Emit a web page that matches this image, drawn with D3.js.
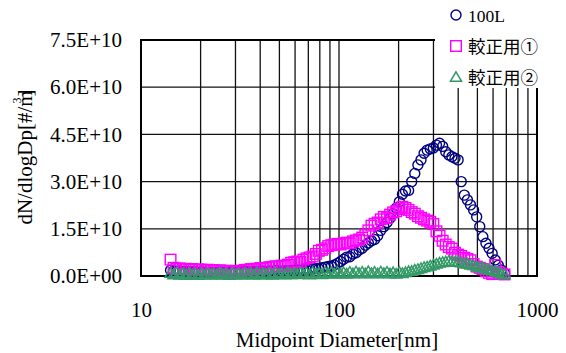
<!DOCTYPE html>
<html>
<head>
<meta charset="utf-8">
<script src="https://cdn.jsdelivr.net/npm/d3@7"></script>
<style>
  html, body { margin: 0; padding: 0; background: #fff; }
  svg { display: block; }
  text { font-family: "Liberation Serif", "Times New Roman", "Noto Sans CJK JP", serif; fill: #000; }
</style>
</head>
<body>
<script>
// Channel midpoint diameters [nm]
const diameters = [
  14.1, 14.6, 15.1, 15.7, 16.3, 16.8, 17.5, 18.1, 18.8, 19.5,
  20.2, 20.9, 21.7, 22.5, 23.3, 24.1, 25.0, 25.9, 26.9, 27.9,
  28.9, 30.0, 31.1, 32.2, 33.4, 34.6, 35.9, 37.2, 38.5, 40.0,
  41.4, 42.9, 44.5, 46.1, 47.8, 49.6, 51.4, 53.3, 55.2, 57.3,
  59.4, 61.5, 63.8, 66.1, 68.5, 71.0, 73.7, 76.4, 79.1, 82.0,
  85.1, 88.2, 91.4, 94.7, 98.2, 101.8, 105.5, 109.4, 113.4, 117.6,
  121.9, 126.3, 131.0, 135.8, 140.7, 145.9, 151.2, 156.8, 162.5, 168.5,
  174.7, 181.1, 187.7, 194.6, 201.7, 209.1, 216.7, 224.7, 232.9, 241.4,
  250.3, 259.5, 269.0, 278.8, 289.0, 299.6, 310.6, 322.0, 333.8, 346.0,
  358.7, 371.8, 385.4, 399.5, 414.2, 429.4, 445.1, 461.4, 478.3, 495.8,
  514.0, 532.8, 552.3, 572.5, 593.5, 615.3, 637.8, 661.2, 685.4
];

// dN/dlogDp values, in units of 1e9 #/m3
const VALUE_UNIT = 1e9;

const values100L = [
  1.8, 1.6, 1.5, 1.6, 1.4, 1.5, 1.3, 1.4, 1.3, 1.2,
  1.3, 1.2, 1.1, 1.2, 1.1, 1.2, 1.3, 1.2, 1.1, 1.2,
  1.3, 1.2, 1.4, 1.3, 1.5, 1.4, 1.3, 1.5, 1.4, 1.6,
  1.5, 1.4, 1.6, 1.5, 1.7, 1.6, 1.5, 1.7, 1.6, 1.8,
  1.7, 1.9, 1.8, 2.0, 1.9, 2.1, 2.2, 2.4, 2.3, 2.6,
  2.8, 3.0, 3.1, 3.5, 4.0, 4.6, 5.3, 6.0, 6.1, 7.0,
  7.4, 8.3, 8.8, 9.8, 10.5, 11.2, 11.6, 12.8, 14.5, 15.7,
  17.0, 18.4, 19.8, 21.6, 23.6, 26.0, 27.0, 27.2, 30.0, 32.6,
  35.3, 36.9, 39.0, 40.0, 40.4, 40.7, 41.6, 42.2, 41.2, 39.5,
  38.5, 37.9, 37.4, 36.9, 30.0, 25.7, 24.2, 22.6, 21.0, 18.8,
  15.7, 12.5, 10.4, 8.8, 7.2, 5.1, 3.4, 1.9, 0.9
];

const valuesCal1 = [
  5.2, 2.6, 2.3, 2.4, 2.2, 2.3, 2.1, 2.2, 2.0, 2.1,
  2.0, 1.9, 2.0, 1.8, 1.9, 1.7, 1.8, 1.6, 1.7, 1.5,
  1.6, 1.5, 1.6, 1.7, 1.9, 2.0, 2.2, 2.1, 2.3, 2.5,
  2.4, 2.6, 2.8, 2.9, 3.1, 3.0, 3.3, 3.2, 3.6, 4.2,
  4.4, 4.6, 4.5, 5.2, 5.6, 5.9, 6.2, 7.0, 8.0, 8.3,
  8.8, 9.5, 9.8, 10.0, 10.2, 10.0, 10.4, 10.6, 10.4, 11.0,
  11.3, 11.6, 12.2, 13.0, 14.5, 16.0, 16.6, 17.0, 18.0, 18.8,
  18.4, 19.5, 20.2, 20.6, 21.3, 22.0, 21.6, 21.0, 20.3, 19.8,
  19.0, 18.5, 18.0, 17.6, 17.2, 16.5, 14.2, 12.8, 11.2, 10.0,
  9.2, 8.7, 7.4, 6.8, 6.4, 5.8, 5.4, 5.0, 3.8, 3.0,
  2.6, 2.2, 1.5, 1.0, 0.6, 3.5, 1.2, 0.8, 0.5
];

const valuesCal2 = [
  1.0, 0.5, 1.1, 0.4, 0.9, 0.3, 1.0, 0.5, 0.8, 0.3,
  0.9, 0.4, 1.0, 0.5, 0.8, 0.4, 1.1, 0.5, 0.9, 0.3,
  1.0, 0.5, 0.8, 0.4, 1.0, 0.6, 0.9, 0.4, 1.1, 0.5,
  0.9, 0.5, 1.0, 0.4, 1.1, 0.6, 0.9, 0.5, 1.2, 0.6,
  1.0, 0.6, 1.2, 0.7, 1.1, 0.5, 1.3, 0.7, 1.1, 0.6,
  1.3, 0.8, 1.2, 0.7, 1.4, 0.8, 1.2, 0.7, 1.3, 0.8,
  1.4, 0.9, 1.3, 0.8, 1.5, 0.9, 1.3, 0.8, 1.4, 0.9,
  1.3, 0.8, 1.2, 0.7, 1.3, 0.9, 1.2, 1.5, 1.6, 2.0,
  2.2, 2.5, 2.8, 3.0, 3.3, 3.6, 3.9, 4.2, 4.4, 4.6,
  4.8, 4.7, 4.5, 4.6, 4.3, 4.0, 3.9, 3.6, 3.4, 3.0,
  2.8, 2.6, 2.3, 2.0, 1.8, 1.5, 1.2, 0.8, 0.5
];

const seriesNames = ["100L", "較正用①", "較正用②"];
const seriesColors = ["#000080", "#ff00ff", "#339966"];
const seriesShapes = ["circle", "square", "triangle"];
const seriesValues = [values100L, valuesCal1, valuesCal2];

const yTicks = [0, 1.5e10, 3.0e10, 4.5e10, 6.0e10, 7.5e10];
const xTickLabels = [10, 100, 1000];

const xTitle = "Midpoint Diameter[nm]";

// Layout
const W = 566, H = 353;
const plot = { left: 141, right: 537, top: 40, bottom: 276 };

const svg = d3.select("body").append("svg")
  .attr("width", W).attr("height", H);

const x = d3.scaleLog().domain([10, 1000]).range([plot.left, plot.right]);
const y = d3.scaleLinear().domain([0, 7.5e10]).range([plot.bottom, plot.top]);

// Exponent-style tick labels, e.g. 7.5E+10
function sci(d) {
  const [m, e] = d.toExponential(1).split("e");
  const sign = e[0];
  const digits = e.slice(1).padStart(2, "0");
  return m + "E" + sign + digits;
}

// Grid: log minor lines on x, major steps on y
const grid = svg.append("g");
grid.selectAll("line.vx")
  .data(x.ticks().filter(d => d > 10 && d < 1000))
  .join("line")
  .attr("x1", d => x(d)).attr("x2", d => x(d))
  .attr("y1", plot.top).attr("y2", plot.bottom)
  .attr("stroke", "#111").attr("stroke-width", 1.3);
grid.selectAll("line.hy")
  .data(yTicks.filter(d => d > 0 && d < 7.5e10))
  .join("line")
  .attr("x1", plot.left).attr("x2", plot.right)
  .attr("y1", d => y(d)).attr("y2", d => y(d))
  .attr("stroke", "#111").attr("stroke-width", 1.3);

// Plot frame
svg.append("rect")
  .attr("x", plot.left).attr("y", plot.top)
  .attr("width", plot.right - plot.left).attr("height", plot.bottom - plot.top)
  .attr("fill", "none").attr("stroke", "#000").attr("stroke-width", 2);

// Axes (labels only)
const yAxis = svg.append("g")
  .attr("transform", `translate(${plot.left},0)`)
  .call(d3.axisLeft(y).tickValues(yTicks).tickFormat(sci).tickSize(0).tickPadding(19));
const xAxis = svg.append("g")
  .attr("transform", `translate(0,${plot.bottom})`)
  .call(d3.axisBottom(x).tickValues(xTickLabels).tickFormat(d3.format("d")).tickSize(0).tickPadding(26));
[yAxis, xAxis].forEach(a => {
  a.select(".domain").remove();
  a.selectAll("text")
    .attr("font-family", "Liberation Serif, Times New Roman, serif")
    .attr("font-size", 21).attr("fill", "#000");
});

// Marker shapes
const triPath = "M0,-5.2 L5.6,4.3 L-5.6,4.3 Z";
function drawMarker(sel, shape, color) {
  if (shape === "circle") {
    sel.append("circle").attr("r", 5).attr("fill", "none")
      .attr("stroke", color).attr("stroke-width", 1.4);
  } else if (shape === "square") {
    sel.append("rect").attr("x", -5.3).attr("y", -5.3).attr("width", 10.6).attr("height", 10.6)
      .attr("fill", "none").attr("stroke", color).attr("stroke-width", 1.4);
  } else {
    sel.append("path").attr("d", triPath).attr("fill", "none")
      .attr("stroke", color).attr("stroke-width", 1.5);
  }
}

// Series
seriesValues.forEach((vals, s) => {
  const g = svg.append("g");
  vals.forEach((v, i) => {
    const m = g.append("g")
      .attr("transform", `translate(${x(diameters[i])},${y(v * VALUE_UNIT)})`);
    drawMarker(m, seriesShapes[s], seriesColors[s]);
  });
});

// Legend
const legend = svg.append("g");
legend.append("rect")
  .attr("x", 435).attr("y", 0).attr("width", W - 435).attr("height", 88)
  .attr("fill", "#fff");
const legendY = [15, 46, 77];
seriesNames.forEach((name, s) => {
  const item = legend.append("g").attr("transform", `translate(456,${legendY[s]})`);
  drawMarker(item, seriesShapes[s], seriesColors[s]);
  item.append("text")
    .attr("x", 12).attr("y", 7)
    .attr("font-size", 17.5)
    .text(name);
});

// Axis titles
svg.append("text")
  .attr("x", (plot.left + plot.right) / 2 - 2).attr("y", 347)
  .attr("text-anchor", "middle").attr("font-size", 21)
  .text(xTitle);

const yTitle = svg.append("text")
  .attr("transform", "translate(32,157) rotate(-90)")
  .attr("text-anchor", "middle").attr("font-size", 21);
yTitle.append("tspan").text("dN/dlogDp[#/m");
yTitle.append("tspan").attr("font-size", 12).attr("dx", -13).attr("dy", -11).text("3");
yTitle.append("tspan").attr("dx", 1).attr("dy", 11).text("]");
</script>
</body>
</html>
